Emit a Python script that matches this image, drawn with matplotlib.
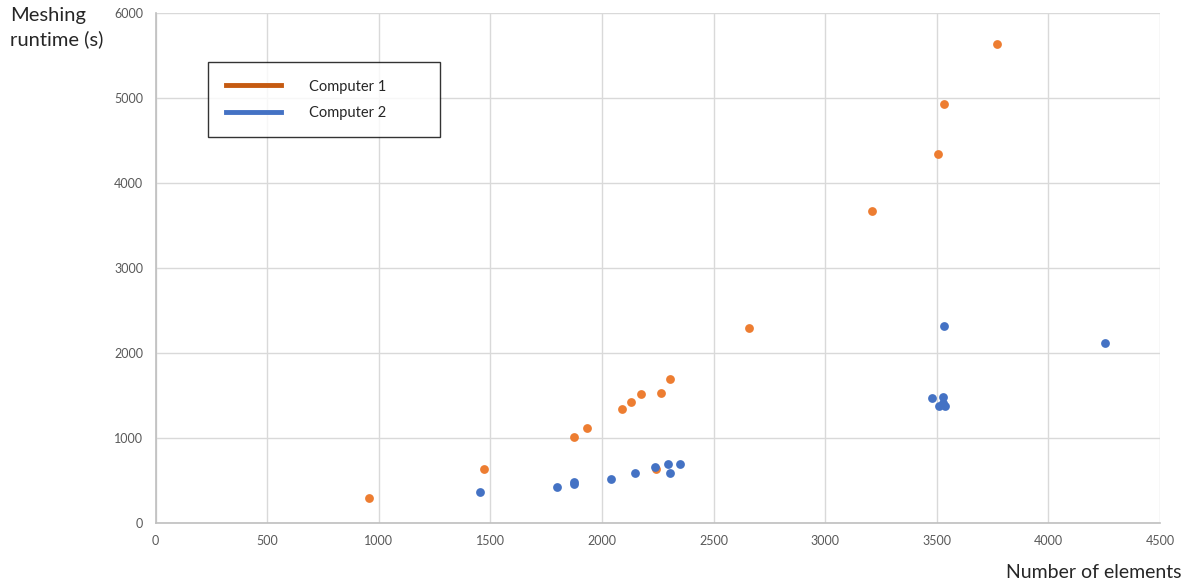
import numpy as np
import matplotlib.pyplot as plt
from matplotlib.lines import Line2D

plt.rcParams['font.family'] = ['Lato', 'DejaVu Sans']

# meshing runtime vs element count, two machines
pc1_elements = [956, 1472, 1876, 1933, 2089, 2130, 2177, 2240, 2265, 2306,
                2659, 3211, 3507, 3534, 3772]
pc1_runtime = [288, 631, 1008, 1118, 1335, 1417, 1515, 630, 1527, 1689,
               2290, 3665, 4345, 4932, 5639]

pc2_elements = [1453, 1799, 1876, 1876, 2042, 2150, 2238, 2296, 2306, 2351,
                3480, 3530, 3530, 3510, 3535, 3534, 4253]
pc2_runtime = [356, 415, 481, 450, 509, 587, 658, 686, 587, 686,
               1470, 1480, 1410, 1370, 1370, 2317, 2113]

xticks = np.arange(0, 4501, 500)
yticks = np.arange(0, 6001, 1000)

orange = '#ED7D31'
blue = '#4472C4'
grid_c = '#D9D9D9'
tick_c = '#595959'

W, H = 1190, 588
fig = plt.figure(figsize=(W / 100, H / 100), dpi=100)
ax = fig.add_axes([155.5 / W, 1 - 522.5 / H, (1160 - 155.5) / W, (522.5 - 13) / H])

ax.scatter(pc1_elements, pc1_runtime, s=40, color=orange, zorder=3, linewidths=0)
ax.scatter(pc2_elements, pc2_runtime, s=40, color=blue, zorder=4, linewidths=0)

ax.set_xlim(0, 4500)
ax.set_ylim(0, 6000)
ax.set_xticks(xticks)
ax.set_yticks(yticks)
ax.grid(True, color=grid_c, linewidth=1)
ax.set_axisbelow(True)
for side in ['top', 'right']:
    ax.spines[side].set_visible(False)
for side in ['left', 'bottom']:
    ax.spines[side].set_color('#BFBFBF')
    ax.spines[side].set_linewidth(1.2)
ax.tick_params(length=0, labelsize=9, colors=tick_c, pad=9)

fig.text(10 / W, 1 - 7 / H, 'Meshing\nruntime (s)', ha='left', va='top',
         fontsize=14.5, color='#262626', linespacing=1.45)
fig.text(1181 / W, 1 - 573 / H, 'Number of elements', ha='right', va='center',
         fontsize=14, color='#262626')

# legend box spanning x 208..440 px, top at 62 px
axw, axh = 1160 - 155.5, 522.5 - 13
handles = [Line2D([], [], color='#C55A11', lw=3.5),
           Line2D([], [], color=blue, lw=3.5)]
leg = ax.legend(handles, ['Computer 1', 'Computer 2'], loc='upper left',
                bbox_to_anchor=((208 - 155.5) / axw, 1 - (62 - 13) / axh - 0.01,
                                (440 - 208) / axw, 0.01),
                mode='expand', frameon=True, fancybox=False, edgecolor='black',
                fontsize=10.5, handlelength=3.8, handletextpad=1.9,
                borderpad=1.2, labelspacing=0.85, borderaxespad=0)
leg.get_frame().set_linewidth(1.0)
for t in leg.get_texts():
    t.set_color('#262626')
leg.set_zorder(5)

fig.savefig('out.png', dpi=100, facecolor='white')
